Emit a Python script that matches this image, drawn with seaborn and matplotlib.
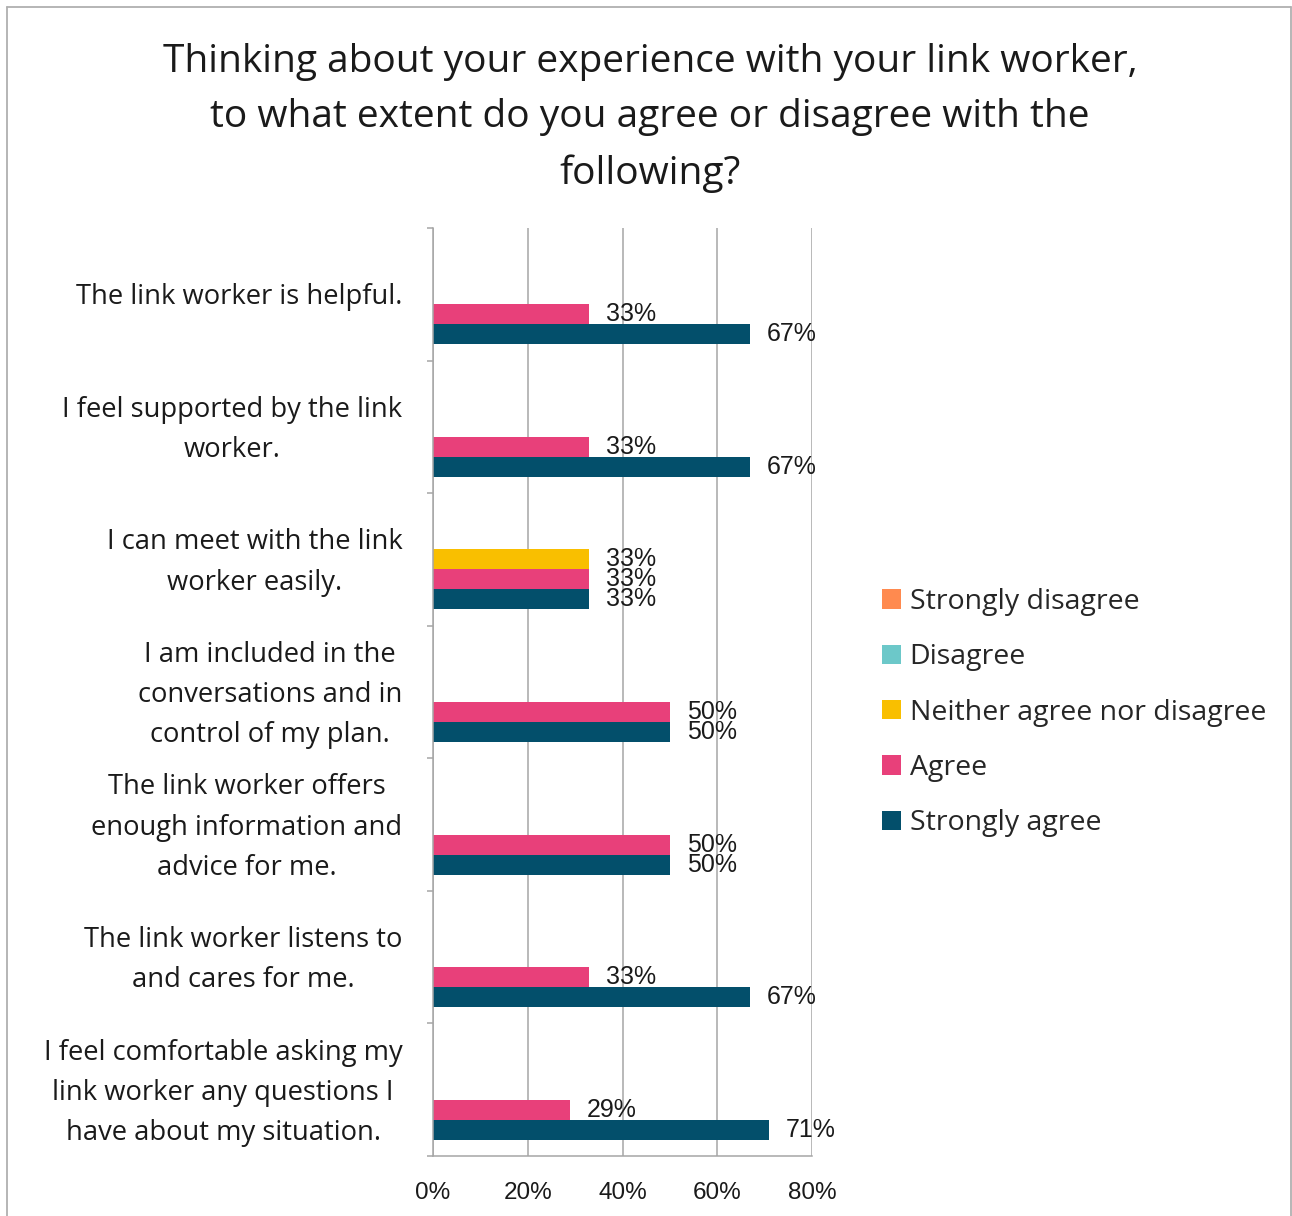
import matplotlib
matplotlib.use("Agg")
import matplotlib.pyplot as plt
import matplotlib.transforms as mtransforms
import seaborn as sns
import pandas as pd
from matplotlib.patches import Patch
from matplotlib.lines import Line2D
from matplotlib.ticker import FixedLocator, PercentFormatter

# ---- survey data (percent of respondents) ----
statements = [
    "The link worker is helpful.",
    "I feel supported by the link\nworker.",
    "I can meet with the link\nworker easily.",
    "I am included in the\nconversations and in\ncontrol of my plan.",
    "The link worker offers\nenough information and\nadvice for me.",
    "The link worker listens to\nand cares for me.",
    "I feel comfortable asking my\nlink worker any questions I\nhave about my situation.",
]
responses = ["Strongly disagree", "Disagree", "Neither agree nor disagree",
             "Agree", "Strongly agree"]
strongly_disagree = [0, 0, 0, 0, 0, 0, 0]
disagree = [0, 0, 0, 0, 0, 0, 0]
neither = [0, 0, 33, 0, 0, 0, 0]
agree = [33, 33, 33, 50, 50, 33, 29]
strongly_agree = [67, 67, 33, 50, 50, 67, 71]
x_ticks = [0, 20, 40, 60, 80]

colors = ["#ff8a4f", "#6cc8c9", "#f9bf00", "#e8407a", "#034f6b"]
title = ("Thinking about your experience with your link worker,\n"
         "to what extent do you agree or disagree with the\nfollowing?")

series = [strongly_disagree, disagree, neither, agree, strongly_agree]
rows = []
for resp, vals in zip(responses, series):
    for stmt, v in zip(statements, vals):
        rows.append({"statement": stmt, "response": resp, "pct": v})
df = pd.DataFrame(rows)

sns.set_theme(style="white")
LABEL_FONT = ["Open Sans", "DejaVu Sans"]
NUM_FONT = ["Liberation Sans", "DejaVu Sans"]
GRID = "#a6a6a6"

W, H = 1292, 1216
fig = plt.figure(figsize=(W / 100, H / 100), dpi=100)
ax = fig.add_axes([433 / W, 1 - 1156 / H, (812 - 433) / W, (1156 - 228) / H])

sns.barplot(data=df, y="statement", x="pct", hue="response",
            order=statements, hue_order=responses, palette=colors,
            orient="h", width=0.754, errorbar=None, linewidth=0,
            saturation=1, legend=False, ax=ax)

# value labels for non-zero bars, nudged slightly below the bar centre
nudge = mtransforms.ScaledTranslation(0, -3 / 100, fig.dpi_scale_trans)
for cont in ax.containers:
    labels = [f"{b.get_width():.0f}%" if b.get_width() > 0 else "" for b in cont]
    texts = ax.bar_label(cont, labels=labels, padding=12, fontsize=18,
                         family=NUM_FONT, color="#1a1a1a")
    for t in texts:
        t.set_transform(t.get_transform() + nudge)

ax.set_xlim(0, 80)
ax.set_ylim(len(statements) - 0.5, -0.5)
ax.set_xlabel("")
ax.set_ylabel("")

# axes styling
for side in ["top", "right"]:
    ax.spines[side].set_visible(False)
for side in ["left", "bottom"]:
    ax.spines[side].set_color(GRID)
    ax.spines[side].set_linewidth(1.1)

ax.xaxis.set_major_locator(FixedLocator(x_ticks))
ax.xaxis.set_major_formatter(PercentFormatter(decimals=0))
ax.grid(axis="x", color=GRID, linewidth=1.1)
ax.set_axisbelow(True)
ax.tick_params(axis="x", which="major", length=4.5, width=1.1, color=GRID,
               direction="out", pad=14, labelsize=17.5, labelcolor="#1a1a1a")
for lab in ax.get_xticklabels():
    lab.set_family(NUM_FONT)

ax.yaxis.set_minor_locator(FixedLocator([i - 0.5 for i in range(len(statements) + 1)]))
ax.tick_params(axis="y", which="major", length=0, pad=22, labelsize=19.7,
               labelcolor="#1a1a1a")
ax.tick_params(axis="y", which="minor", length=4.5, width=1.1, color=GRID,
               direction="out", left=True)
for lab in ax.get_yticklabels():
    lab.set_family(LABEL_FONT)
    lab.set_horizontalalignment("right")
    lab.set_verticalalignment("center")
    lab.set_multialignment("center")
    lab.set_linespacing(1.58)
    lab.set_transform(lab.get_transform() + nudge)

# title
fig.text(650 / W, 1 - 43 / H, title, ha="center", va="top", fontsize=28,
         family=LABEL_FONT, color="#1a1a1a", linespacing=1.6)

# legend
handles = [Patch(facecolor=c, edgecolor="none", label=r) for c, r in zip(colors, responses)]
fig.legend(handles=handles, loc="upper left", bbox_to_anchor=(882 / W, 1 - 588 / H),
           frameon=False, prop={"family": LABEL_FONT, "size": 20.5},
           handlelength=0.67, handleheight=0.67, handletextpad=0.3,
           labelspacing=0.96, borderpad=0, borderaxespad=0)

# outer frame (left, top, right)
for xs, ys in [([7 / W, 7 / W], [0, 1 - 7 / H]),
               ([7 / W, 1291 / W], [1 - 7 / H, 1 - 7 / H]),
               ([1291 / W, 1291 / W], [0, 1 - 7 / H])]:
    fig.add_artist(Line2D(xs, ys, color="#b0b0b0", linewidth=1.3,
                          transform=fig.transFigure))

fig.savefig("out.png", dpi=100, facecolor="white")
